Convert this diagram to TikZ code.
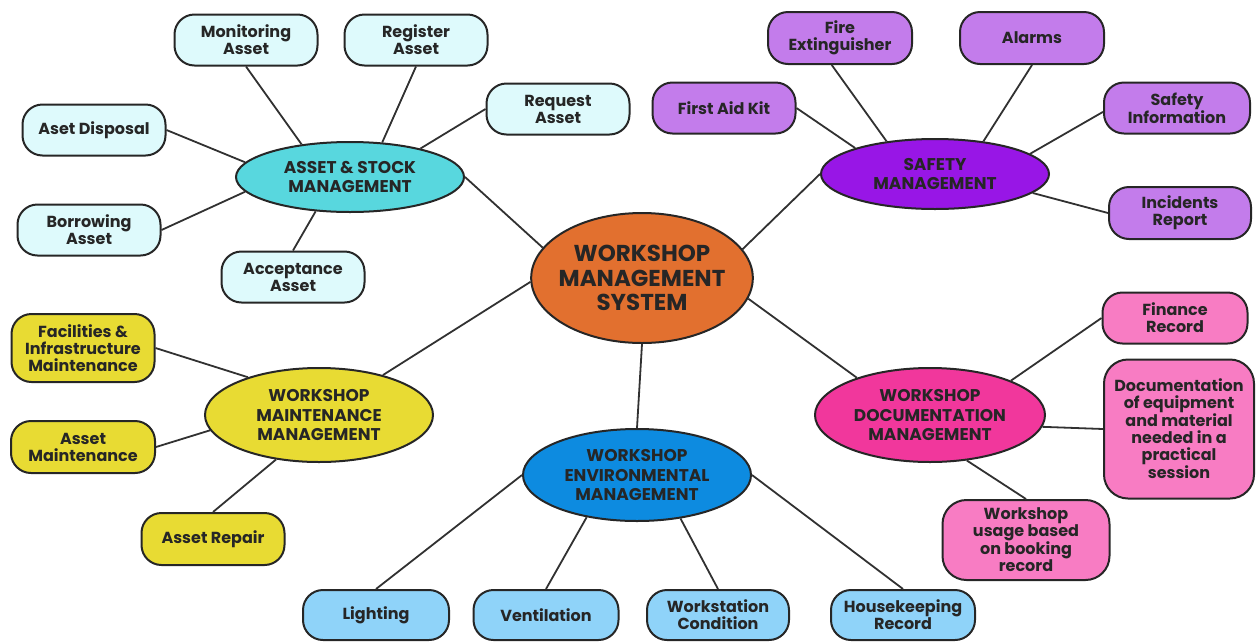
\documentclass[tikz,border=0pt]{standalone}
\usepackage{fontspec}
\setmainfont{Poppins}
\usetikzlibrary{shapes.geometric}

\definecolor{ink}{HTML}{262626}
\definecolor{coreC}{HTML}{E2702F}
\definecolor{assetM}{HTML}{58D7DE}
\definecolor{assetL}{HTML}{DEFAFC}
\definecolor{safeM}{HTML}{9816E6}
\definecolor{safeL}{HTML}{C37CEB}
\definecolor{maintC}{HTML}{E8DB33}
\definecolor{envM}{HTML}{0D8BE0}
\definecolor{envL}{HTML}{8FD3F9}
\definecolor{docM}{HTML}{F1379C}
\definecolor{docL}{HTML}{F87CC3}

\tikzset{
  hub/.style={ellipse, draw=ink, line width=2pt, inner sep=0pt, align=center,
    text=ink, font=\bfseries\fontsize{17}{19.5}\selectfont},
  leaf/.style={rectangle, rounded corners=20pt, draw=ink, line width=2pt,
    inner sep=0pt, align=center, text=ink,
    minimum width=143pt, minimum height=51pt,
    font=\bfseries\fontsize{16}{17}\selectfont},
  link/.style={draw=ink!95, line width=1.8pt},
}

\begin{document}
\begin{tikzpicture}[x=1pt,y=-1pt]
\useasboundingbox (0,0) rectangle (1259,641);

% central topic
\node[hub, fill=coreC, minimum width=220pt, minimum height=130pt, inner xsep=-5pt,
      font=\bfseries\fontsize{23}{24.5}\selectfont] (core) at (642,278)
      {WORKSHOP\\MANAGEMENT\\SYSTEM};

% branch hubs
\node[hub, fill=assetM, minimum width=228pt, minimum height=70pt] (asset) at (350,177)
      {ASSET \& STOCK\\MANAGEMENT};
\node[hub, fill=safeM, minimum width=228pt, minimum height=70pt] (safe) at (935,174)
      {SAFETY\\MANAGEMENT};
\node[hub, fill=maintC, minimum width=228pt, minimum height=94pt] (maint) at (319,415)
      {WORKSHOP\\MAINTENANCE\\MANAGEMENT};
\node[hub, fill=envM, minimum width=228pt, minimum height=92pt] (env) at (637,475)
      {WORKSHOP\\ENVIRONMENTAL\\MANAGEMENT};
\node[hub, fill=docM, minimum width=230pt, minimum height=94pt] (doc) at (930,415)
      {WORKSHOP\\DOCUMENTATION\\MANAGEMENT};

% asset & stock leaves
\node[leaf, fill=assetL] (mon)  at (246,40)  {Monitoring\\Asset};
\node[leaf, fill=assetL] (reg)  at (416,40)  {Register\\Asset};
\node[leaf, fill=assetL] (req)  at (558,109) {Request\\Asset};
\node[leaf, fill=assetL] (disp) at (94,130)  {Aset Disposal};
\node[leaf, fill=assetL] (borr) at (89,230)  {Borrowing\\Asset};
\node[leaf, fill=assetL] (acc)  at (293,277) {Acceptance\\Asset};

% safety leaves
\node[leaf, fill=safeL, minimum width=144pt, minimum height=52pt] (fire)  at (840,38)   {Fire\\Extinguisher};
\node[leaf, fill=safeL, minimum width=144pt, minimum height=52pt] (alarm) at (1032,38)  {Alarms};
\node[leaf, fill=safeL] (aid)   at (724,108)  {First Aid Kit};
\node[leaf, fill=safeL, minimum width=146pt] (info)  at (1177,108) {Safety\\Information};
\node[leaf, fill=safeL, minimum width=142pt, minimum height=52pt] (inc)   at (1180,213) {Incidents\\Report};

% maintenance leaves
\node[leaf, fill=maintC, minimum height=68pt] (fac) at (83,348) {Facilities \&\\Infrastructure\\Maintenance};
\node[leaf, fill=maintC, minimum width=144pt, minimum height=52pt] (amaint) at (83,447) {Asset\\Maintenance};
\node[leaf, fill=maintC, minimum height=52pt] (repair) at (213,539) {Asset Repair};

% environmental leaves
\node[leaf, fill=envL, minimum width=146pt, minimum height=50pt] (light) at (376,615) {Lighting};
\node[leaf, fill=envL, minimum width=145pt, minimum height=50pt] (vent)  at (546,615) {Ventilation};
\node[leaf, fill=envL, minimum width=142pt, minimum height=50pt] (work)  at (718,615) {Workstation\\Condition};
\node[leaf, fill=envL, minimum width=144pt, minimum height=50pt] (house) at (903,615) {Housekeeping\\Record};

% documentation leaves
\node[leaf, fill=docL, minimum width=145pt] (fin) at (1175,318) {Finance\\Record};
\node[leaf, fill=docL, minimum width=150pt, minimum height=139pt, rounded corners=24pt] (docu) at (1179,429)
      {Documentation\\of equipment\\and material\\needed in a\\practical\\session};
\node[leaf, fill=docL, minimum width=167pt, minimum height=80pt, rounded corners=24pt] (usage) at (1026,540)
      {Workshop\\usage based\\on booking\\record};

% connectors: core to hubs
\draw[link] (core.163.5) -- (asset.east);
\draw[link] (core.16.9) -- (safe.west);
\draw[link] (core.182) -- (maint.32);
\draw[link] (core.south) -- (env.north);
\draw[link] (core.349.8) -- (doc.153.4);

% asset & stock
\draw[link] (mon.south) -- (asset.146.3);
\draw[link] (reg.south) -- (asset.47.6);
\draw[link] (req.west) -- (asset.22.5);
\draw[link] (disp.east) -- (asset.172.9);
\draw[link] (borr.east) -- (asset.188.7);
\draw[link] (acc.north) -- (asset.225);

% safety
\draw[link] (aid.east) -- (safe.162.4);
\draw[link] (fire.253) -- (safe.146.3);
\draw[link] (alarm.south) -- (safe.34.8);
\draw[link] (info.183) -- (safe.12.5);
\draw[link] (inc.west) -- (safe.349.3);

% maintenance
\draw[link] (fac.east) -- (maint.152.8);
\draw[link] (amaint.east) -- (maint.188.9);
\draw[link] (repair.north) -- (maint.226.3);

% environmental
\draw[link] (light.north) -- (env.west);
\draw[link] (vent.north) -- (env.220.7);
\draw[link] (work.north) -- (env.315.6);
\draw[link] (house.north) -- (env.east);

% documentation
\draw[link] (fin.west) -- (doc.23.4);
\draw[link] (docu.west) -- (doc.354.4);
\draw[link] (usage.north) -- (doc.309.6);
\end{tikzpicture}
\end{document}
